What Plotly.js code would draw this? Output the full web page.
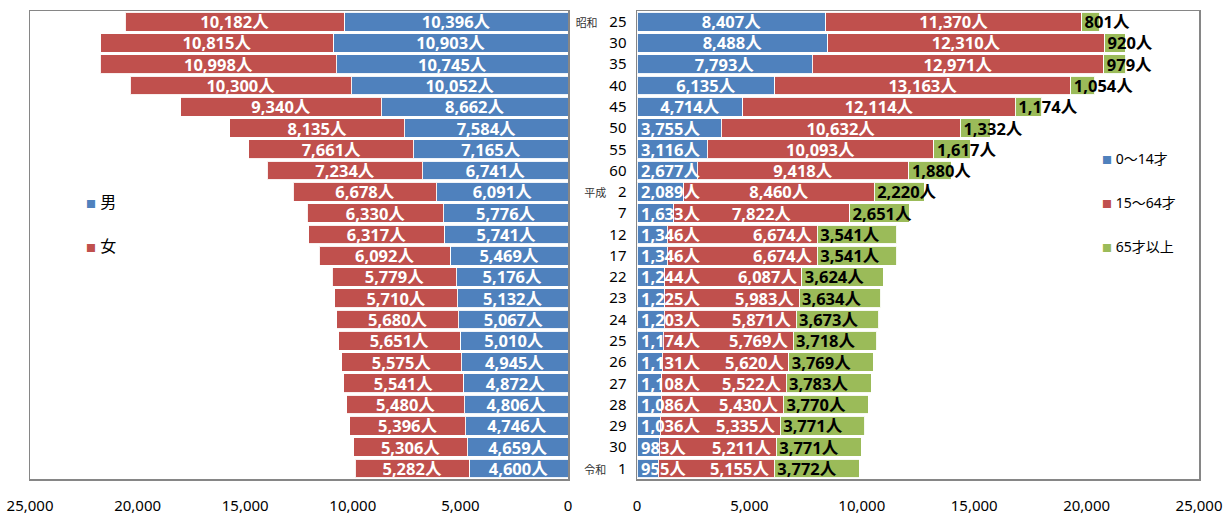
<!DOCTYPE html>
<html>
<head>
<meta charset="utf-8">
<script src="https://cdn.plot.ly/plotly-3.0.1.min.js"></script>
<style>html,body{margin:0;padding:0;background:#fff;}#chart{width:1227px;height:513px;}</style>
</head>
<body>
<div id="chart"></div>
<script>
// ---- data ----
const eras = ['昭和','昭和','昭和','昭和','昭和','昭和','昭和','昭和','平成','平成','平成','平成','平成','平成','平成','平成','平成','平成','平成','平成','平成','令和'];
const years = [25,30,35,40,45,50,55,60,2,7,12,17,22,23,24,25,26,27,28,29,30,1];
const male = [10396,10903,10745,10052,8662,7584,7165,6741,6091,5776,5741,5469,5176,5132,5067,5010,4945,4872,4806,4746,4659,4600];
const female = [10182,10815,10998,10300,9340,8135,7661,7234,6678,6330,6317,6092,5779,5710,5680,5651,5575,5541,5480,5396,5306,5282];
const age0_14 = [8407,8488,7793,6135,4714,3755,3116,2677,2089,1633,1346,1346,1244,1225,1203,1174,1131,1108,1086,1036,983,955];
const age15_64 = [11370,12310,12971,13163,12114,10632,10093,9418,8460,7822,6674,6674,6087,5983,5871,5769,5620,5522,5430,5335,5211,5155];
const age65 = [801,920,979,1054,1174,1332,1617,1880,2220,2651,3541,3541,3624,3634,3673,3718,3769,3783,3770,3771,3771,3772];
const xTicks = [0,5000,10000,15000,20000,25000];

// ---- derived ----
const cats = eras.map((e,i)=>e+years[i]);
const tickText = cats.map((c,i)=> (i===0 || eras[i]!==eras[i-1])
  ? '<span style="font-size:11px;fill:#333">'+eras[i]+'</span>\u00a0\u00a0\u00a0'+years[i]
  : String(years[i]));
const lbl = v => v.toLocaleString('en-US')+'人';
const yRange = [cats.length-0.5,-0.5];

const BLUE='#4F81BD', RED='#C0504D', GREEN='#9BBB59';
const FONT='"Noto Sans", "Noto Sans CJK JP", sans-serif';
const barLine={color:'rgba(255,255,255,0.9)',width:1};
const LS=16.5;
const wFont={family:FONT,size:LS,color:'#fff',weight:'bold'};
const kFont={family:FONT,size:LS,color:'#000',weight:'bold'};
const SMALL=4000;   // 0-14 label does not fit: start it at the base
const TINY=1500;    // 0-14 label spills far: push the 15-64 label to its bar end
const sq = c => '<span style="font-size:10px;fill:'+c+'">■</span>\u00a0';
const noMarker={size:1,color:'rgba(0,0,0,0)',line:{width:0}};

const traces=[
  {type:'bar',orientation:'h',x:male,y:cats,xaxis:'x',yaxis:'y',marker:{color:BLUE,line:barLine},
   text:male.map(lbl),textposition:'inside',insidetextanchor:'middle',textangle:0,constraintext:'none',insidetextfont:wFont,showlegend:false,hoverinfo:'x+y'},
  {type:'bar',orientation:'h',x:female,y:cats,xaxis:'x',yaxis:'y',marker:{color:RED,line:barLine},
   text:female.map(lbl),textposition:'inside',insidetextanchor:'middle',textangle:0,constraintext:'none',insidetextfont:wFont,showlegend:false,hoverinfo:'x+y'},
  {type:'bar',orientation:'h',x:age0_14,y:cats,xaxis:'x2',yaxis:'y2',marker:{color:BLUE,line:barLine},
   text:age0_14.map(lbl),textposition:age0_14.map(v=>v<SMALL?'none':'inside'),insidetextanchor:'middle',textangle:0,constraintext:'none',insidetextfont:wFont,showlegend:false,hoverinfo:'x+y'},
  {type:'bar',orientation:'h',x:age15_64,y:cats,xaxis:'x2',yaxis:'y2',marker:{color:RED,line:barLine},
   text:age15_64.map(lbl),textposition:age0_14.map(v=>v<TINY?'none':'inside'),insidetextanchor:'middle',textangle:0,constraintext:'none',insidetextfont:wFont,showlegend:false,hoverinfo:'x+y'},
  {type:'bar',orientation:'h',x:age65,y:cats,xaxis:'x2',yaxis:'y2',marker:{color:GREEN,line:barLine},
   text:age65.map(lbl),textposition:'inside',insidetextanchor:'start',textangle:0,constraintext:'none',insidetextfont:kFont,showlegend:false,hoverinfo:'x+y'},
  // legend entries
  {type:'scatter',mode:'markers',x:[null],y:[null],xaxis:'x',yaxis:'y',name:sq(BLUE)+'男',legend:'legend',legendgroup:'m',marker:noMarker},
  {type:'scatter',mode:'markers',x:[null],y:[null],xaxis:'x',yaxis:'y',name:sq(RED)+'女',legend:'legend',legendgroup:'f',marker:noMarker},
  {type:'scatter',mode:'markers',x:[null],y:[null],xaxis:'x2',yaxis:'y2',name:sq(BLUE)+'0〜14才',legend:'legend2',legendgroup:'a',marker:noMarker},
  {type:'scatter',mode:'markers',x:[null],y:[null],xaxis:'x2',yaxis:'y2',name:sq(RED)+'15〜64才',legend:'legend2',legendgroup:'b',marker:noMarker},
  {type:'scatter',mode:'markers',x:[null],y:[null],xaxis:'x2',yaxis:'y2',name:sq(GREEN)+'65才以上',legend:'legend2',legendgroup:'c',marker:noMarker}
];

// labels of narrow 0-14 bars start at the bar base; the 15-64 label then moves to its bar end
const annotations=[];
age0_14.forEach((v,i)=>{
  if(v<SMALL) annotations.push({xref:'x2',yref:'y2',x:0,y:cats[i],text:lbl(v),showarrow:false,
    xanchor:'left',yanchor:'middle',xshift:3,font:wFont,borderpad:0});
  if(v<TINY) annotations.push({xref:'x2',yref:'y2',x:v+age15_64[i],y:cats[i],text:lbl(age15_64[i]),showarrow:false,
    xanchor:'right',yanchor:'middle',xshift:-4,font:wFont,borderpad:0});
});

const W=1227;
const axFrame={showline:true,linecolor:'#868686',linewidth:1.5,mirror:true,zeroline:false,showgrid:false};
const layout={
  width:1227,height:513,
  margin:{l:0,r:0,t:11,b:34},
  paper_bgcolor:'#fff',plot_bgcolor:'#fff',
  font:{family:FONT,size:15,color:'#000'},
  barmode:'stack',bargap:0.12,
  xaxis:Object.assign({},axFrame,{domain:[30/W,568/W],range:[25000,0],tickvals:xTicks,tickformat:',d',ticks:'',ticklabelstandoff:12,tickfont:{size:15},anchor:'y'}),
  yaxis:Object.assign({},axFrame,{type:'category',categoryarray:cats,range:yRange,showticklabels:false,ticks:'',anchor:'x'}),
  xaxis2:Object.assign({},axFrame,{domain:[637/W,1199/W],range:[0,25000],tickvals:xTicks,tickformat:',d',ticks:'',ticklabelstandoff:12,tickfont:{size:15},anchor:'y2'}),
  yaxis2:Object.assign({},axFrame,{type:'category',categoryarray:cats,range:yRange,tickmode:'array',tickvals:cats,ticktext:tickText,ticks:'',ticklabelstandoff:6,tickfont:{size:15},anchor:'x2',side:'left'}),
  legend:{x:46/W,y:1-(191/513),xanchor:'left',yanchor:'top',bgcolor:'rgba(0,0,0,0)',font:{size:16},traceorder:'grouped',tracegroupgap:20,itemwidth:30},
  legend2:{x:1062/W,y:1-(145/513),xanchor:'left',yanchor:'top',bgcolor:'rgba(0,0,0,0)',font:{size:14},traceorder:'grouped',tracegroupgap:22.5,itemwidth:30},
  annotations:annotations,
  showlegend:true
};
Plotly.newPlot('chart',traces,layout,{displayModeBar:false,staticPlot:true});
</script>
</body>
</html>
